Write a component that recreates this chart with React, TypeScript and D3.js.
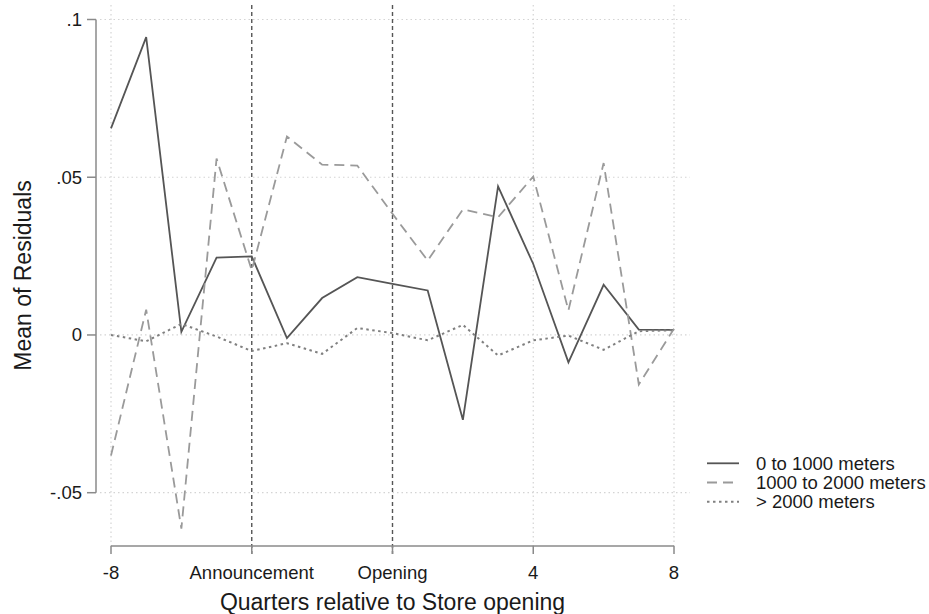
import React from "react";
import * as d3 from "d3";

const quarters = [-8, -7, -6, -5, -4, -3, -2, -1, 0, 1, 2, 3, 4, 5, 6, 7, 8];
const near = [0.0655, 0.0944, 0.001, 0.0245, 0.0249, -0.001, 0.0117, 0.0183, 0.0162, 0.0141, -0.0269, 0.0471, 0.0225, -0.0087, 0.0159, 0.0017, 0.0016];
const mid = [-0.0382, 0.008, -0.0614, 0.0559, 0.0205, 0.0629, 0.054, 0.0537, 0.0384, 0.0236, 0.0398, 0.0373, 0.0502, 0.0078, 0.0545, -0.0157, 0.002];
const far = [0, -0.002, 0.0035, -0.0005, -0.0051, -0.0026, -0.006, 0.0022, 0.0006, -0.0017, 0.0032, -0.0065, -0.0017, -0.0002, -0.0047, 0.0012, 0.0015];

const seriesNames = ["0 to 1000 meters", "1000 to 2000 meters", "> 2000 meters"];
const xTickValues = [-8, -4, 0, 4, 8];
const xTickLabels = ["-8", "Announcement", "Opening", "4", "8"];
const xGridValues = [-8, 4, 8];
const xLineValues = [-4, 0];
const yTickValues = [-0.05, 0, 0.05, 0.1];
const yTickLabels = ["-.05", "0", ".05", ".1"];

const FONT = "'Liberation Sans', Arial, Helvetica, sans-serif";

export default function App() {
  const W = 929, H = 614;
  const x = d3.scaleLinear().domain([-8, 8]).range([111, 674]);
  const y = d3.scaleLinear().domain([-0.05, 0.1]).range([492.7, 19.5]);
  const line = d3
    .line<number>()
    .x((_, i) => x(quarters[i]))
    .y((d) => y(d));

  const styles = [
    { stroke: "#555555", dash: "none", width: 1.8 },
    { stroke: "#9a9a9a", dash: "10 6", width: 1.8 },
    { stroke: "#808080", dash: "2.5 3.5", width: 2 },
  ];
  const data = [near, mid, far];

  const gridLeft = 100, gridRight = 690, gridTop = 5, axisY = 546, axisX = 96;

  return (
    <svg
      width={W}
      height={H}
      style={{ position: "absolute", left: 0, top: 0, background: "#fff" }}
      fontFamily={FONT}
    >
      <rect width={W} height={H} fill="#fff" />
      {/* horizontal gridlines */}
      {yTickValues.map((v) => (
        <line key={"hg" + v} x1={gridLeft} x2={gridRight} y1={y(v)} y2={y(v)} stroke="#d4d4d4" strokeWidth={1.2} strokeDasharray="1.5 3" />
      ))}
      {/* vertical gridlines */}
      {xGridValues.map((v) => (
        <line key={"vg" + v} x1={x(v)} x2={x(v)} y1={gridTop} y2={axisY} stroke="#d4d4d4" strokeWidth={1.2} strokeDasharray="1.5 3" />
      ))}
      {/* xlines */}
      {xLineValues.map((v) => (
        <line key={"xl" + v} x1={x(v)} x2={x(v)} y1={gridTop} y2={axisY + 8} stroke="#555" strokeWidth={1.4} strokeDasharray="4 3" />
      ))}
      {/* series */}
      {data.map((s, i) => (
        <path key={"s" + i} d={line(s) || ""} fill="none" stroke={styles[i].stroke} strokeWidth={styles[i].width} strokeDasharray={styles[i].dash} strokeLinejoin="miter" />
      ))}
      {/* y axis */}
      <line x1={axisX} x2={axisX} y1={y(0.1)} y2={y(-0.05)} stroke="#8a8a8a" strokeWidth={1.5} />
      {yTickValues.map((v, i) => (
        <g key={"yt" + v}>
          <line x1={axisX - 9} x2={axisX} y1={y(v)} y2={y(v)} stroke="#8a8a8a" strokeWidth={1.5} />
          <text x={82} y={y(v)} dy="0.35em" textAnchor="end" fontSize={18.5} fill="#1a1a1a">
            {yTickLabels[i]}
          </text>
        </g>
      ))}
      {/* x axis */}
      <line x1={x(-8)} x2={x(8)} y1={axisY} y2={axisY} stroke="#8a8a8a" strokeWidth={1.5} />
      {xTickValues.map((v, i) => (
        <g key={"xt" + v}>
          <line x1={x(v)} x2={x(v)} y1={axisY} y2={axisY + 8} stroke="#8a8a8a" strokeWidth={1.5} />
          <text x={x(v)} y={579} textAnchor="middle" fontSize={18.5} fill="#1a1a1a">
            {xTickLabels[i]}
          </text>
        </g>
      ))}
      {/* axis titles */}
      <text x={(x(-8) + x(8)) / 2} y={610} textAnchor="middle" fontSize={23} fill="#1a1a1a">
        Quarters relative to Store opening
      </text>
      <text transform={`translate(31,275.5) rotate(-90)`} textAnchor="middle" fontSize={23} fill="#1a1a1a">
        Mean of Residuals
      </text>
      {/* legend */}
      {seriesNames.map((name, i) => {
        const ly = 463.3 + i * 19.2;
        return (
          <g key={"lg" + i}>
            <line x1={707} x2={739} y1={ly} y2={ly} stroke={styles[i].stroke} strokeWidth={styles[i].width} strokeDasharray={styles[i].dash} />
            <text x={756} y={ly} dy="0.35em" fontSize={18.5} fill="#1a1a1a">
              {name}
            </text>
          </g>
        );
      })}
    </svg>
  );
}
